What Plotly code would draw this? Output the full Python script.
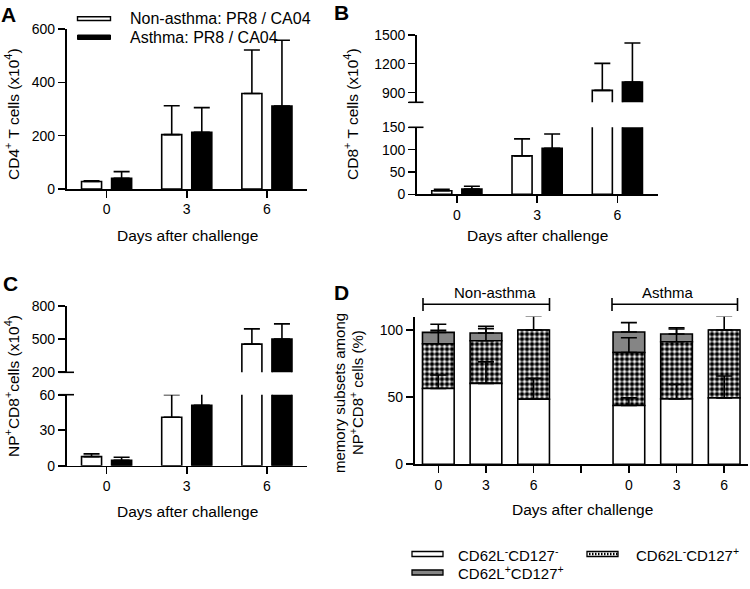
import plotly.graph_objects as go

W, H = 750, 589
FONT = "Liberation Sans, Arial, sans-serif"

# ---------------- data ----------------
days = ["0", "3", "6"]

cd4_non = [28, 204, 358]
cd4_non_err = [3, 108, 163]
cd4_ast = [40, 213, 311]
cd4_ast_err = [25, 92, 247]

cd8_non = [8, 86, 924]
cd8_non_err = [3, 38, 279]
cd8_ast = [12, 103, 1010]
cd8_ast_err = [6, 32, 404]

np_non = [7.7, 41, 455]
np_non_err = [2.3, 19, 138]
np_ast = [4.5, 51, 500]
np_ast_err = [2.6, 13, 138]

groups_D = ["Non-asthma", "Asthma"]
dn_neg_neg = [56.5, 60.25, 48.5, 43.75, 48.75, 49.5]      # CD62L-CD127-
dn_neg_neg_err = [10, 16, 15.5, 5.75, 10.75, 16.25]
dn_neg_pos = [33.25, 31.75, 51.5, 39.5, 42.5, 50.5]       # CD62L-CD127+
dn_neg_pos_err = [10, 9, 10.5, 11, 9.5, 10.5]
dn_pos_pos = [8.5, 5.75, 0, 15.25, 5.75, 0]               # CD62L+CD127+
dn_pos_pos_err = [6, 5, 0, 7, 4.75, 0]

# broken-axis segment ranges
B_LOW, B_HIGH = [0, 150], [800, 1500]
C_LOW, C_HIGH = [0, 60], [200, 800]

# ---------------- helpers ----------------
def px(x):
    return x / W

def py(y):
    return 1 - y / H

LW = 1.6
WHITE_OFF, BLACK_OFF, BW = -0.3125, 0.0625, 0.25
GRAY = "#858585"

def err(arr):
    return dict(type="data", symmetric=False, array=arr, arrayminus=[0] * len(arr),
                color="black", thickness=LW, width=8, visible=True)

traces = []

def pair(xax, yax, non, non_e, ast, ast_e, vmin=None):
    for vals, errs, off, col in [(non, non_e, WHITE_OFF, "white"), (ast, ast_e, BLACK_OFF, "black")]:
        keep = [i for i, v in enumerate(vals) if vmin is None or v > vmin]
        traces.append(go.Bar(x=[days[i] for i in keep], y=[vals[i] for i in keep],
                             xaxis=xax, yaxis=yax, offset=off, width=BW,
                             marker=dict(color=col, line=dict(color="black", width=LW)),
                             error_y=err([errs[i] for i in keep]), showlegend=False))

pair("x", "y", cd4_non, cd4_non_err, cd4_ast, cd4_ast_err)
pair("x2", "y2", cd8_non, cd8_non_err, cd8_ast, cd8_ast_err)
pair("x2", "y3", cd8_non, cd8_non_err, cd8_ast, cd8_ast_err, vmin=B_HIGH[0])
pair("x3", "y4", np_non, np_non_err, np_ast, np_ast_err)
pair("x3", "y5", np_non, np_non_err, np_ast, np_ast_err, vmin=C_HIGH[0])

# panel D
catsD = [f"{g} {d}" for g in groups_D for d in days]
cat_order = catsD[:3] + ["gap"] + catsD[3:]
base_np = dn_neg_neg
base_pp = [a + b for a, b in zip(dn_neg_neg, dn_neg_pos)]
DW = 0.665
traces.append(go.Bar(x=catsD, y=dn_pos_pos, base=base_pp, xaxis="x4", yaxis="y6",
                     offset=-DW / 2, width=DW,
                     marker=dict(color=GRAY, line=dict(color="black", width=LW)),
                     error_y=err(dn_pos_pos_err), showlegend=False))
traces.append(go.Bar(x=catsD, y=dn_neg_pos, base=base_np, xaxis="x4", yaxis="y6",
                     offset=-DW / 2, width=DW,
                     marker=dict(color="white", line=dict(color="black", width=LW),
                                 pattern=dict(shape=".", size=5, solidity=0.62,
                                              fgcolor="black", bgcolor="white")),
                     error_y=err(dn_neg_pos_err), showlegend=False))
traces.append(go.Bar(x=catsD, y=dn_neg_neg, xaxis="x4", yaxis="y6",
                     offset=-DW / 2, width=DW,
                     marker=dict(color="white", line=dict(color="black", width=LW)),
                     error_y=err(dn_neg_neg_err), showlegend=False))

fig = go.Figure(traces)

tickfont = dict(family=FONT, size=14, color="black")

def xax(domain, anchor, **kw):
    d = dict(domain=domain, anchor=anchor, showline=True, linecolor="black", linewidth=LW,
             ticks="outside", ticklen=7, tickwidth=LW, tickcolor="black", tickfont=tickfont,
             showgrid=False, zeroline=False, fixedrange=True, automargin=False)
    d.update(kw)
    return d

def yax(domain, anchor, rng, tickvals, ticktext=None, **kw):
    d = dict(domain=domain, anchor=anchor, range=rng, showline=True, linecolor="black",
             linewidth=LW, ticks="outside", ticklen=7, tickwidth=LW, tickcolor="black",
             tickfont=tickfont, showgrid=False, zeroline=False, tickvals=tickvals,
             ticktext=ticktext if ticktext is not None else [str(v) for v in tickvals],
             fixedrange=True, automargin=False)
    d.update(kw)
    return d

fig.update_layout(
    template="none",
    width=W, height=H, margin=dict(l=0, r=0, t=0, b=0, pad=0, autoexpand=False),
    paper_bgcolor="white", plot_bgcolor="white",
    barmode="overlay", showlegend=False,
    font=dict(family=FONT, color="black"),
    xaxis=xax([px(66.5), px(307)], "y", range=[-0.5, 2.5], type="category",
              categoryorder="array", categoryarray=days),
    yaxis=yax([py(189), py(29)], "x", [0, 600], [0, 200, 400, 600]),
    xaxis2=xax([px(416.7), px(657.5)], "y2", range=[-0.5, 2.5], type="category",
               categoryorder="array", categoryarray=days),
    yaxis2=yax([py(194.3), py(127.3)], "x2", B_LOW, [0, 50, 100, 150]),
    yaxis3=yax([py(102.3), py(34.7)], "x2", B_HIGH, [800, 900, 1200, 1500],
               ["", "900", "1200", "1500"]),
    xaxis3=xax([px(66.5), px(307)], "y4", range=[-0.5, 2.5], type="category",
               categoryorder="array", categoryarray=days),
    yaxis4=yax([py(465.7), py(394.7)], "x3", C_LOW, [0, 30, 60]),
    yaxis5=yax([py(372.3), py(306)], "x3", C_HIGH, [200, 500, 800]),
    xaxis4=xax([px(414.5), px(748)], "y6", range=[-0.5, 6.5], type="category",
               categoryorder="array", categoryarray=cat_order,
               tickvals=cat_order, ticktext=[c.split(" ")[-1] if c != "gap" else "" for c in cat_order]),
    yaxis6=yax([py(464.3), py(316.6)], "x4", [0, 110], [0, 50, 100]),
)

ann = []
shapes = []

def text(x, y, t, size=15, angle=0, xanchor="center", bold=False):
    ann.append(dict(x=px(x), y=py(y), xref="paper", yref="paper", text=f"<b>{t}</b>" if bold else t,
                    showarrow=False, textangle=angle, xanchor=xanchor, yanchor="middle",
                    font=dict(family=FONT, size=size, color="black")))

# panel labels
text(8, 14, "A", 21, bold=True)
text(341, 13, "B", 21, bold=True)
text(10, 283, "C", 21, bold=True)
text(341, 293, "D", 21, bold=True)

# axis titles
text(187, 235, "Days after challenge", 15.5)
text(537, 235, "Days after challenge", 15.5)
text(187, 511, "Days after challenge", 15.5)
text(582, 509, "Days after challenge", 15.5)
text(12, 114, "CD4<sup>+</sup> T cells (x10<sup>4</sup>)", 15.5, angle=-90)
text(351, 114, "CD8<sup>+</sup> T cells (x10<sup>4</sup>)", 15.5, angle=-90)
text(12, 386, "NP<sup>+</sup>CD8<sup>+</sup>cells (x10<sup>4</sup>)", 15.5, angle=-90)
text(339, 393, "memory subsets among", 15, angle=-90)
text(356, 393, "NP<sup>+</sup>CD8<sup>+</sup> cells (%)", 15, angle=-90)

# legend panel A
shapes.append(dict(type="rect", xref="paper", yref="paper", x0=px(77.5), x1=px(110.5),
                   y0=py(20.5), y1=py(16.8), fillcolor="white", line=dict(color="black", width=1.4)))
shapes.append(dict(type="rect", xref="paper", yref="paper", x0=px(77.5), x1=px(110.5),
                   y0=py(39.5), y1=py(35.0), fillcolor="black", line=dict(color="black", width=1)))
text(128, 19, "Non-asthma: PR8 / CA04", 16, xanchor="left")
text(128, 37.5, "Asthma: PR8 / CA04", 16, xanchor="left")

# legend panel D
def legsym(x0, y, fill, pattern=False):
    shapes.append(dict(type="rect", xref="paper", yref="paper", x0=px(x0), x1=px(x0 + 31),
                       y0=py(y + 2.5), y1=py(y - 2.5), fillcolor=fill,
                       line=dict(color="black", width=1.3)))
    if pattern:
        k = x0 + 2
        while k < x0 + 30:
            shapes.append(dict(type="line", xref="paper", yref="paper", x0=px(k), x1=px(k + 1.5),
                               y0=py(y), y1=py(y), line=dict(color="black", width=2.5)))
            k += 3

legsym(412, 554, "white")
legsym(587, 554, "white", pattern=True)
legsym(412, 572.5, GRAY)
text(456, 554, "CD62L<sup>-</sup>CD127<sup>-</sup>", 15, xanchor="left")
text(634, 554, "CD62L<sup>-</sup>CD127<sup>+</sup>", 15, xanchor="left")
text(456, 572.5, "CD62L<sup>+</sup>CD127<sup>+</sup>", 15, xanchor="left")

# white mask over the axis breaks (keeps the break gap empty)
for (x0, x1, ya, yb) in [(424.5, 660, 103.5, 126.2), (75, 310, 373.5, 393.6)]:
    shapes.append(dict(type="rect", xref="paper", yref="paper", layer="above",
                       x0=px(x0), x1=px(x1), y0=py(yb), y1=py(ya),
                       fillcolor="white", line=dict(width=0)))

# broken-axis caps
for (x0, x1, y) in [(408.5, 423.5, 102.3), (408.5, 423.5, 127.3), (59, 74, 372.3), (59, 74, 394.7)]:
    shapes.append(dict(type="line", xref="paper", yref="paper", x0=px(x0), x1=px(x1),
                       y0=py(y), y1=py(y), line=dict(color="black", width=LW)))

# brackets in panel D
for (xa, xb, xt, label) in [(423, 549.5, 494.5, "Non-asthma"), (612, 737.5, 667.5, "Asthma")]:
    shapes.append(dict(type="line", xref="paper", yref="paper", x0=px(xa), x1=px(xb),
                       y0=py(304.3), y1=py(304.3), line=dict(color="black", width=LW)))
    for xe in (xa, xb):
        shapes.append(dict(type="line", xref="paper", yref="paper", x0=px(xe), x1=px(xe),
                           y0=py(298), y1=py(311), line=dict(color="black", width=LW)))
    text(xt, 293, label, 15)

fig.update_layout(annotations=ann, shapes=shapes)
fig.write_html(
    "out.html",
    config={"displayModeBar": False, "staticPlot": True},
    post_script=(
        "document.documentElement.style.margin='0px';"
        "document.documentElement.style.overflow='hidden';"
        "document.body.style.margin='0px';"
        "document.body.style.overflow='hidden';"
        "var gd=document.getElementById('{plot_id}');"
        "gd.style.position='fixed';gd.style.left='0px';gd.style.top='0px';"
    ),
)
